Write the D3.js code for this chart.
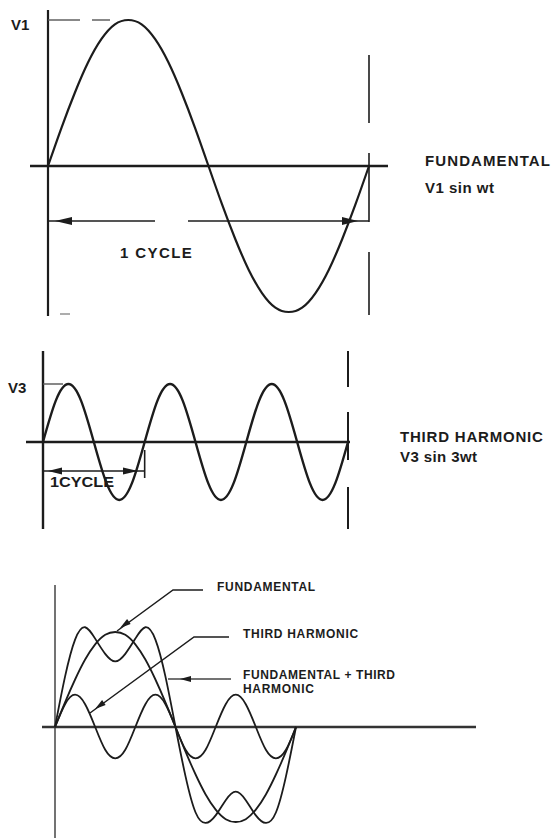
<!DOCTYPE html>
<html>
<head>
<meta charset="utf-8">
<script src="https://cdn.jsdelivr.net/npm/d3@7/dist/d3.min.js"></script>
<style>
  body { margin: 0; background: #fff; }
  svg text { font-family: "Liberation Sans", Arial, sans-serif; font-weight: bold; fill: #1c1c1c; }
</style>
</head>
<body>
<svg id="chart" width="553" height="838"></svg>
<script>
// phase of the fundamental in degrees, 15 degree steps over one cycle
var phase = [0, 15, 30, 45, 60, 75, 90, 105, 120, 135, 150, 165, 180,
             195, 210, 225, 240, 255, 270, 285, 300, 315, 330, 345, 360];

// values (V1 = 1)
var fundamental = [0, 0.26, 0.5, 0.71, 0.87, 0.97, 1, 0.97, 0.87, 0.71, 0.5, 0.26, 0,
                   -0.26, -0.5, -0.71, -0.87, -0.97, -1, -0.97, -0.87, -0.71, -0.5, -0.26, 0];
// third harmonic on its own panel (V3 = 1)
var thirdHarmonic = [0, 0.71, 1, 0.71, 0, -0.71, -1, -0.71, 0, 0.71, 1, 0.71, 0,
                     -0.71, -1, -0.71, 0, 0.71, 1, 0.71, 0, -0.71, -1, -0.71, 0];
// third harmonic in the combined panel, relative to V1
var thirdInMix = [0, 0.24, 0.34, 0.24, 0, -0.24, -0.33, -0.24, 0, 0.24, 0.34, 0.24, 0,
                  -0.24, -0.33, -0.24, 0, 0.24, 0.34, 0.24, 0, -0.24, -0.33, -0.24, 0];
// fundamental + third harmonic
var fundPlusThird = [0, 0.53, 0.92, 1.05, 0.93, 0.77, 0.69, 0.77, 0.93, 1.05, 0.92, 0.53, 0,
                     -0.52, -0.9, -1.01, -0.93, -0.77, -0.68, -0.77, -0.93, -1.01, -0.9, -0.52, 0];

var topLabels = ['FUNDAMENTAL', 'V1 sin wt'];
var midLabels = ['THIRD HARMONIC', 'V3 sin 3wt'];
var mixLabels = ['FUNDAMENTAL', 'THIRD HARMONIC', 'FUNDAMENTAL + THIRD', 'HARMONIC'];

var ink = '#1c1c1c';
var svg = d3.select('#chart');

function wave(g, x, y, values, width) {
  var line = d3.line()
    .x(function(d, i) { return x(phase[i]); })
    .y(function(d) { return y(d); })
    .curve(d3.curveNatural);
  g.append('path')
    .datum(values)
    .attr('d', line)
    .attr('fill', 'none')
    .attr('stroke', ink)
    .attr('stroke-width', width)
    .attr('stroke-linejoin', 'round');
}

function seg(g, x1, y1, x2, y2, w, col) {
  g.append('line')
    .attr('x1', x1).attr('y1', y1).attr('x2', x2).attr('y2', y2)
    .attr('stroke', col || ink)
    .attr('stroke-width', w);
}

// filled arrow head, tip at (tx,ty), pointing along angle (deg)
function arrowHead(g, tx, ty, ang, len, half) {
  var a = ang * Math.PI / 180;
  var bx = tx - len * Math.cos(a), by = ty - len * Math.sin(a);
  var px = -Math.sin(a) * half, py = Math.cos(a) * half;
  g.append('path')
    .attr('d', 'M' + tx + ',' + ty + 'L' + (bx + px) + ',' + (by + py) + 'L' + (bx - px) + ',' + (by - py) + 'Z')
    .attr('fill', ink);
}

function label(g, x, y, txt, size, spacing) {
  return g.append('text')
    .attr('x', x).attr('y', y)
    .attr('font-size', size)
    .attr('letter-spacing', spacing || 0)
    .text(txt);
}

// ---------- top panel: fundamental ----------
var topG = svg.append('g');
var x1 = d3.scaleLinear().domain([0, 360]).range([48, 369]);
var y1 = d3.scaleLinear().domain([-1, 1]).range([312, 20]);

seg(topG, x1(0), 10, x1(0), 316, 2.2);
seg(topG, 30, y1(0), 388, y1(0), 2.6);
// dashed end-of-cycle marker
seg(topG, x1(360), 55, x1(360), 123, 1.6);
seg(topG, x1(360), 153, x1(360), 222, 1.6);
seg(topG, x1(360), 252, x1(360), 315, 1.6);
// V1 level guide
seg(topG, x1(0), y1(1), 80, y1(1), 1.4, '#555');
seg(topG, 92, y1(1), 110, y1(1), 1.4, '#555');
seg(topG, x1(0) + 4, 314, 52, 314, 1.2, '#777');
seg(topG, 60, 314, 70, 314, 1.2, '#777');
// 1 cycle dimension
seg(topG, x1(0), 221, 155, 221, 1.6);
seg(topG, 188, 221, x1(360), 221, 1.6);
arrowHead(topG, 55, 221, 180, 17, 4);
arrowHead(topG, 358, 221, 0, 16, 4);

wave(topG, x1, y1, fundamental, 2.2);

label(topG, 11, 30, 'V1', 15, 0);
label(topG, 120, 258, '1 CYCLE', 15, 1.4);
label(topG, 425, 166, topLabels[0], 15, 1.1);
label(topG, 425, 193, topLabels[1], 15, 0.5);

// ---------- middle panel: third harmonic ----------
var midG = svg.append('g');
var x2 = d3.scaleLinear().domain([0, 360]).range([43, 348]);
var y2 = d3.scaleLinear().domain([-1, 1]).range([500, 384]);

seg(midG, x2(0), 351, x2(0), 529, 2.4);
seg(midG, 26, y2(0), 350, y2(0), 2.6);
seg(midG, x2(360), 351, x2(360), 387, 2);
seg(midG, x2(360), 412, x2(360), 460, 2);
seg(midG, x2(360), 487, x2(360), 529, 2);
seg(midG, x2(0), y2(1), 63, y2(1), 1.4, '#555');
// 1 cycle dimension
seg(midG, x2(0), 471, x2(120), 471, 1.6);
seg(midG, x2(120), 450, x2(120), 478, 1.6);
arrowHead(midG, 48, 471, 180, 14, 3.5);
arrowHead(midG, 138, 471, 0, 15, 3.5);

wave(midG, x2, y2, thirdHarmonic, 2.4);

label(midG, 8, 393, 'V3', 15, 0);
label(midG, 50, 487, '1CYCLE', 14, 0).attr('textLength', 64).attr('lengthAdjust', 'spacingAndGlyphs');
label(midG, 400, 442, midLabels[0], 15, 0.8);
label(midG, 400, 462, midLabels[1], 15, 0.4);

// ---------- bottom panel: fundamental + third harmonic ----------
var botG = svg.append('g');
var x3 = d3.scaleLinear().domain([0, 360]).range([55, 296]);
var y3 = d3.scaleLinear().domain([-1, 1]).range([822, 632]);

seg(botG, x3(0), 585, x3(0), 838, 1.5, '#444');
seg(botG, 42, y3(0), 476, y3(0), 2.6, '#333');

wave(botG, x3, y3, fundamental, 1.8);
wave(botG, x3, y3, thirdInMix, 1.8);
wave(botG, x3, y3, fundPlusThird, 1.8);

// leaders
botG.append('path').attr('d', 'M203,590L173,590L117,631')
  .attr('fill', 'none').attr('stroke', ink).attr('stroke-width', 1.5);
arrowHead(botG, 120, 628, Math.atan2(41, -56) * 180 / Math.PI, 11, 3);
botG.append('path').attr('d', 'M229,637L194,637L90,713')
  .attr('fill', 'none').attr('stroke', ink).attr('stroke-width', 1.5);
arrowHead(botG, 95, 709, Math.atan2(76, -104) * 180 / Math.PI, 11, 3);
botG.append('path').attr('d', 'M231,679L168,679')
  .attr('fill', 'none').attr('stroke', '#444').attr('stroke-width', 1.3);
arrowHead(botG, 180, 679, 180, 11, 3);

label(botG, 217, 591, mixLabels[0], 12, 0.7);
label(botG, 243, 638, mixLabels[1], 12, 0.7);
label(botG, 243, 679, mixLabels[2], 12, 0.6);
label(botG, 243, 693, mixLabels[3], 12, 0.7);
</script>
</body>
</html>
